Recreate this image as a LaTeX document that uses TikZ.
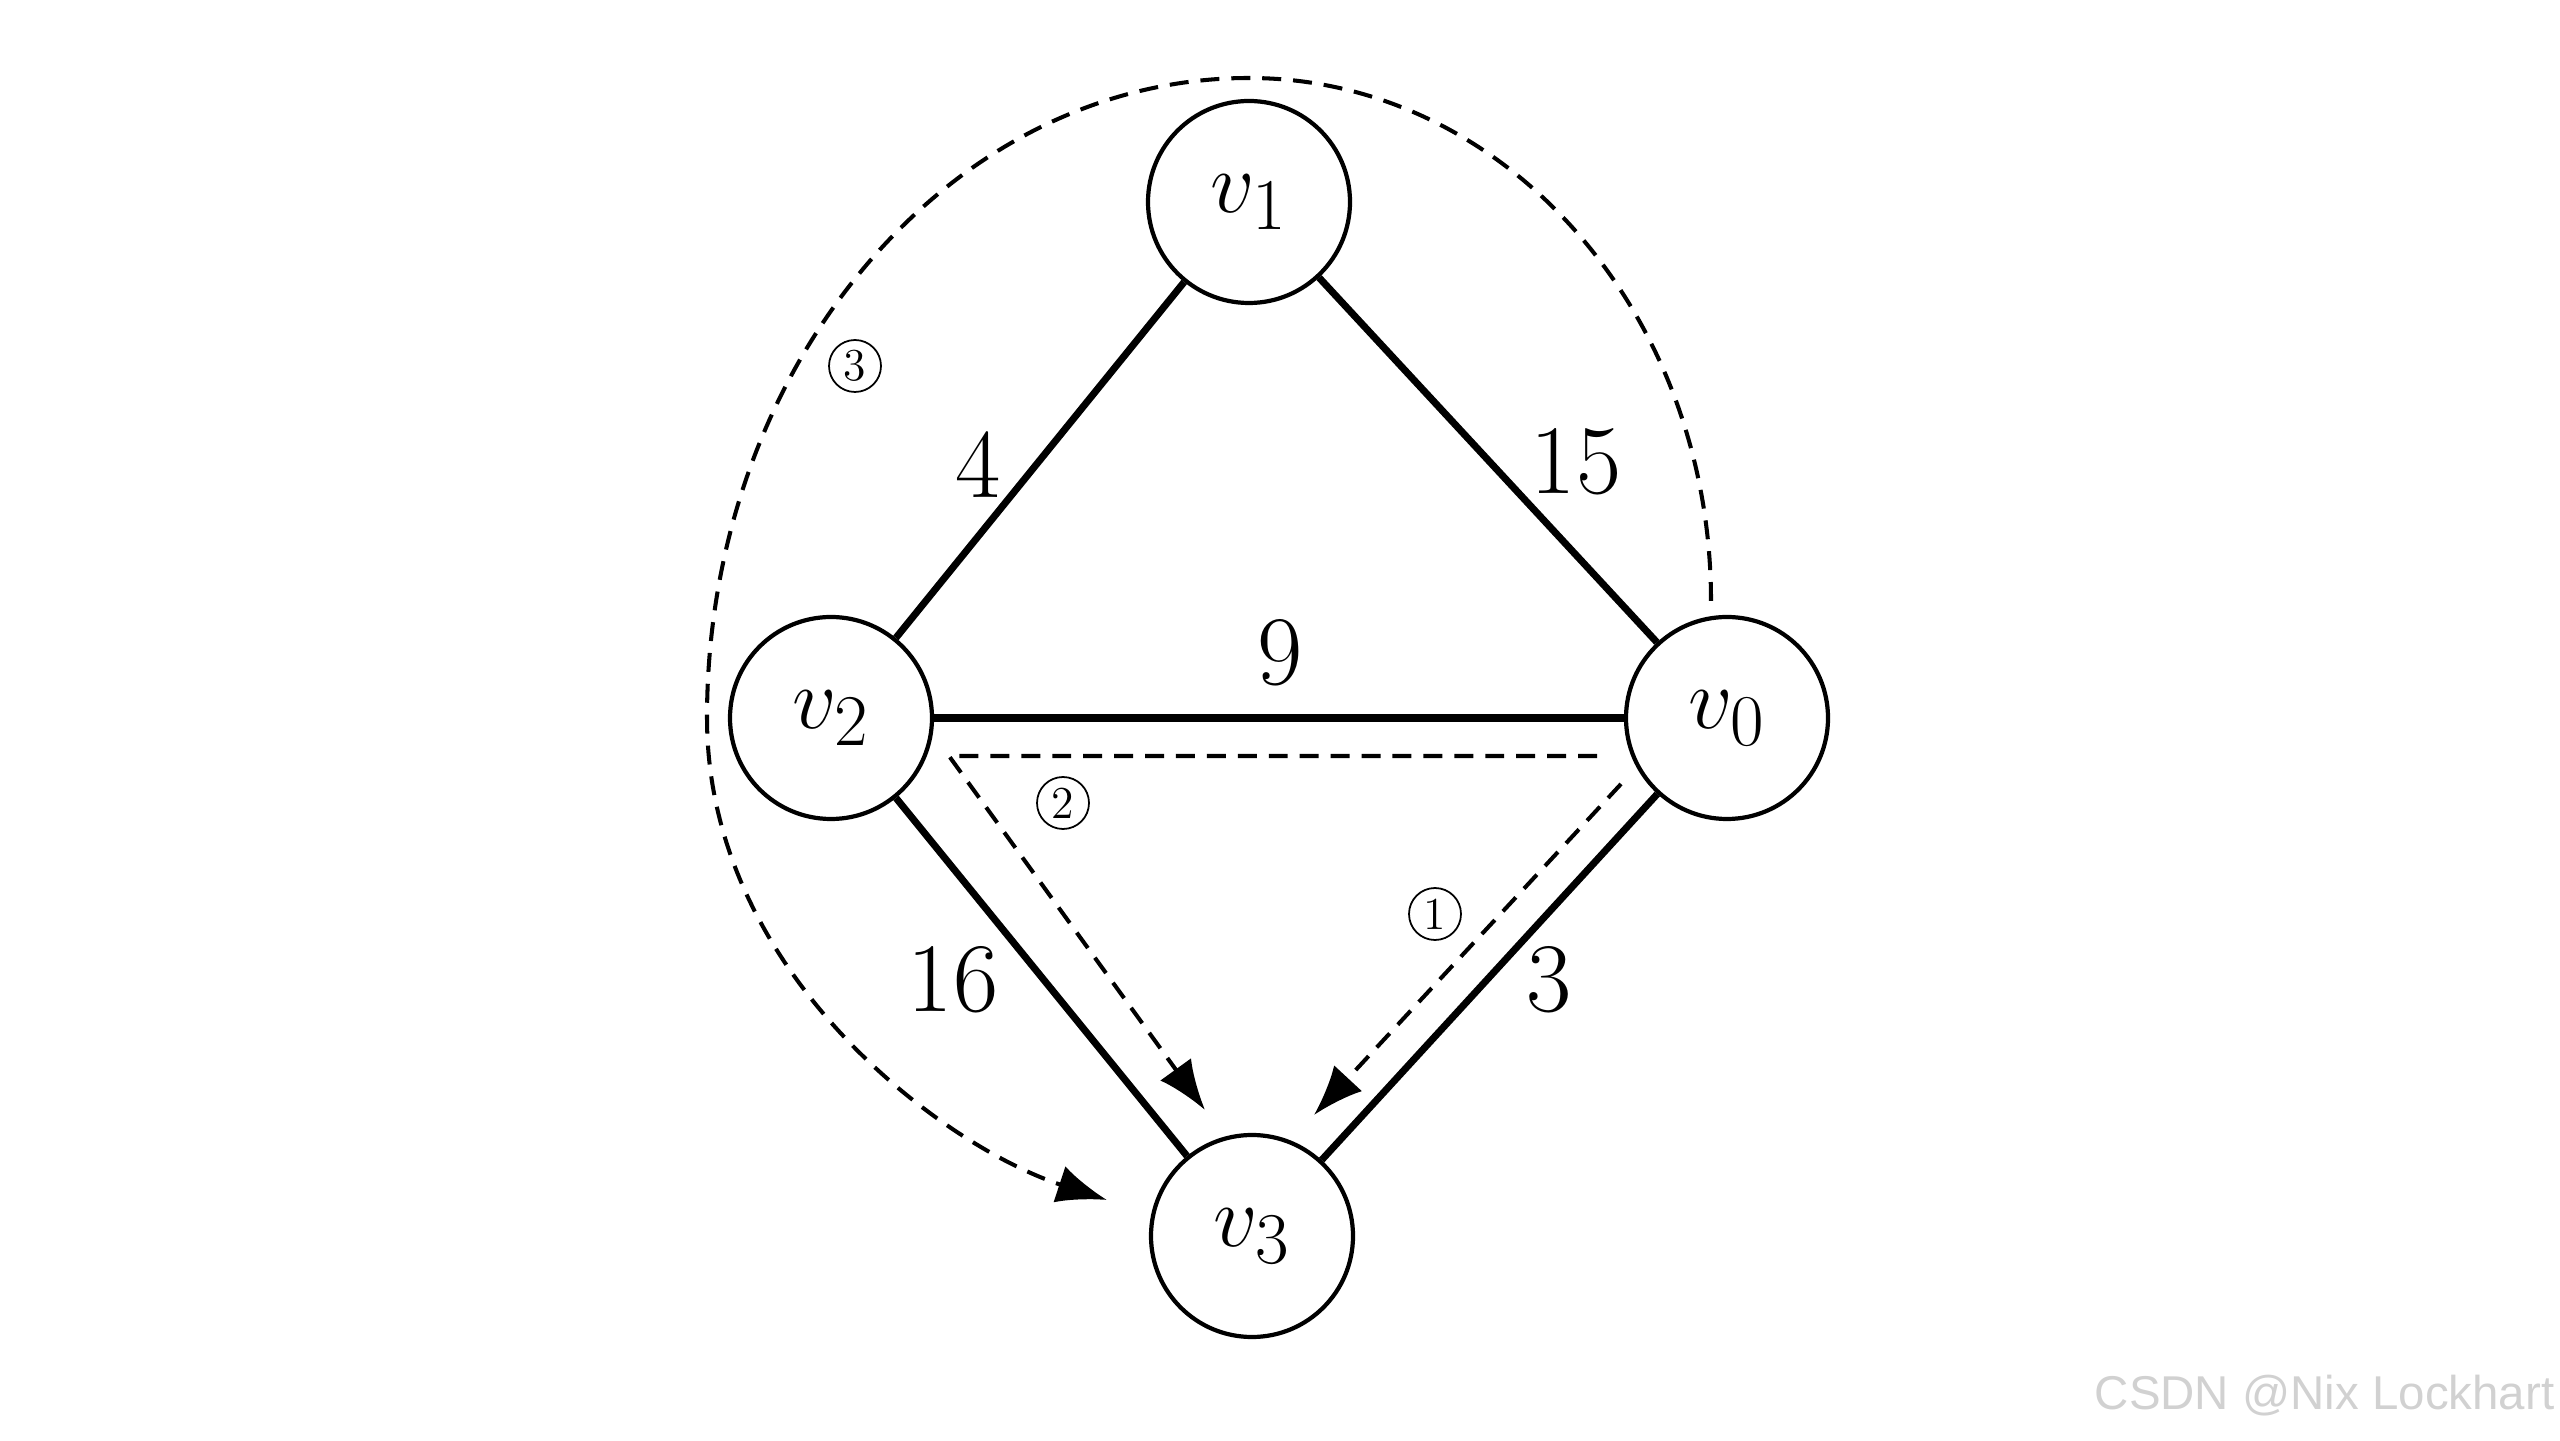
\documentclass[tikz,border=0pt]{standalone}
\usepackage{fontspec}
\newfontfamily\wmfont{Liberation Sans}
\usetikzlibrary{arrows.meta}
\tikzset{
  vertex/.style={circle,draw,line width=1.2pt,minimum size=2.02cm,inner sep=0pt,font=\fontsize{28}{34}\selectfont},
  edge/.style={line width=2pt},
  wlabel/.style={font=\fontsize{28}{34}\selectfont,inner sep=0pt},
  route/.style={line width=1.15pt,dash pattern=on 5.4pt off 3.4pt,-{Latex[length=0.5cm,width=0.38cm]}},
  stepno/.style={circle,draw,line width=0.5pt,minimum size=0.52cm,inner sep=0pt,font=\fontsize{13}{14}\selectfont},
}
\begin{document}
\begin{tikzpicture}
\useasboundingbox (0,0) rectangle (25.6,14.4);
\node[vertex] (v1) at (12.49,12.38) {$v_1$};
\node[vertex] (v2) at (8.31,7.22) {$v_2$};
\node[vertex] (v0) at (17.27,7.22) {$v_0$};
\node[vertex] (v3) at (12.52,2.04) {$v_3$};

\draw[edge] (v1) -- (v2);
\draw[edge] (v1) -- (v0);
\draw[edge] (v2) -- (v0);
\draw[edge] (v2) -- (v3);
\draw[edge] (v0) -- (v3);

\node[wlabel] (l4) at (9.78,9.75) {4};
\node[wlabel] (l15) at (15.76,9.78) {15};
\node[wlabel] (l9) at (12.80,7.87) {9};
\node[wlabel] (l16) at (9.53,4.60) {16};
\node[wlabel] (l3) at (15.49,4.60) {3};

% route 1
\coordinate (r1s) at (16.21,6.56);
\coordinate (r1e) at (13.14,3.25);
\draw[route] (r1s) -- (r1e);
% route 2
\coordinate (r2s) at (15.97,6.84);
\coordinate (r2c) at (9.49,6.84);
\coordinate (r2e) at (12.05,3.30);
\draw[route] (r2s) -- (r2c) -- (r2e);
% route 3
\coordinate (r3s) at (17.11,8.39);
\coordinate (r3t) at (12.49,13.62);
\coordinate (r3l) at (7.07,7.22);
\coordinate (r3e) at (11.07,2.40);
\draw[route] (r3s) .. controls (17.11,11.28) and (15.04,13.62) .. (r3t)
  .. controls (9.50,13.62) and (7.07,10.75) .. (r3l)
  .. controls (7.07,4.70) and (9.40,2.95) .. (r3e);

\node[stepno] (n3) at (8.55,10.74) {3};
\node[stepno] (n2) at (10.63,6.37) {2};
\node[stepno] (n1) at (14.35,5.26) {1};

\node[anchor=east,text=black!18,font=\wmfont\fontsize{13.5}{16}\selectfont,inner sep=0pt] (wm) at (25.55,0.44) {CSDN @Nix Lockhart};
\end{tikzpicture}
\end{document}
